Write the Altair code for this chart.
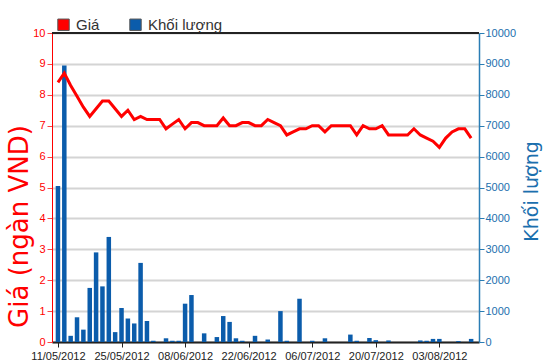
import altair as alt
import pandas as pd

# trading days 11/05/2012 .. 10/08/2012
dates = [d.strftime("%d/%m/%Y") for d in pd.bdate_range("2012-05-11", "2012-08-10")]

price = [8.4, 8.7, 8.3, 7.95, 7.6, 7.3, 7.55, 7.8, 7.8, 7.55,
         7.3, 7.5, 7.2, 7.3, 7.2, 7.2, 7.2, 6.9, 7.05, 7.2,
         6.9, 7.1, 7.1, 7.0, 7.0, 7.0, 7.25, 7.0, 7.0, 7.1,
         7.1, 7.0, 7.0, 7.2, 7.1, 7.0, 6.7, 6.8, 6.9, 6.9,
         7.0, 7.0, 6.8, 7.0, 7.0, 7.0, 7.0, 6.7, 7.0, 6.9,
         6.9, 7.0, 6.7, 6.7, 6.7, 6.7, 6.9, 6.7, 6.6, 6.5,
         6.3, 6.6, 6.8, 6.9, 6.9, 6.6]

volume = [5050, 8950, 200, 800, 400, 1750, 2900, 1800, 3400, 320,
          1100, 760, 600, 2560, 680, 40, 0, 120, 40, 40,
          1240, 1520, 0, 280, 0, 160, 840, 650, 120, 40,
          0, 200, 0, 80, 0, 1000, 40, 0, 1400, 0,
          40, 0, 120, 0, 0, 0, 240, 40, 0, 130,
          60, 0, 50, 0, 0, 0, 0, 50, 40, 100,
          100, 0, 0, 30, 0, 100]

tick_idx = [0, 10, 20, 30, 40, 50, 60]
tick_labels = [dates[i] for i in tick_idx]

series = ["Giá", "Khối lượng"]
colors = ["#ff0000", "#0b5cab"]

df = pd.DataFrame({
    "i": list(range(len(dates))),
    "date": dates,
    "price": price,
    "volume": volume,
    "series": "Khối lượng",
})

W, H = 427, 309
label_expr = "[" + ",".join("'%s'" % s for s in tick_labels) + "][round(datum.value/10)]"

x_enc = alt.X(
    "i:Q",
    scale=alt.Scale(domain=[-0.15, 65.45], nice=False, zero=False),
    axis=alt.Axis(
        values=tick_idx, labelExpr=label_expr, title=None, grid=False,
        domainColor="#222222", domainWidth=2, tickColor="#222222", tickSize=5,
        labelFont="Liberation Sans Narrow, Liberation Sans, Arial", labelFontSize=11,
        labelColor="#222222", labelPadding=3,
    ),
)

bars = alt.Chart(df).mark_bar(width=4.5).encode(
    x=x_enc,
    y=alt.Y(
        "volume:Q",
        scale=alt.Scale(domain=[0, 10000], nice=False),
        axis=alt.Axis(
            orient="right", values=list(range(0, 10001, 1000)), format="d", grid=False,
            title="Khối lượng", titleColor="#1b6fae", titleFont="DejaVu Sans",
            titleFontSize=19, titleFontWeight="normal", titleAngle=270,
            titleX=58, titleY=158, titleAlign="center", titleBaseline="alphabetic",
            domainColor="#2a7db5", domainWidth=1.5, tickColor="#2a7db5", tickSize=5,
            labelColor="#1b6fae", labelFont="Liberation Sans", labelFontSize=11,
            labelPadding=1,
        ),
    ),
    color=alt.Color(
        "series:N",
        scale=alt.Scale(domain=series, range=colors),
        legend=alt.Legend(
            title=None, orient="none", direction="horizontal",
            legendX=4, legendY=-16, symbolType="square", symbolSize=130,
            symbolStrokeWidth=1, symbolStrokeColor="#555555",
            labelFont="Liberation Sans", labelFontSize=15,
            labelColor="#333333", labelOffset=5, columnPadding=27,
        ),
    ),
)

line = alt.Chart(df).mark_line(color="#ff0000", strokeWidth=3).encode(
    x=x_enc,
    y=alt.Y(
        "price:Q",
        scale=alt.Scale(domain=[0, 10], nice=False),
        axis=alt.Axis(
            orient="left", values=list(range(0, 11)), grid=True,
            gridColor="#d4d4d4", gridWidth=2,
            title="Giá (ngàn VND)", titleColor="#ff0000", titleFont="DejaVu Sans",
            titleFontSize=26, titleFontWeight="normal", titleAngle=270,
            titleX=-25, titleY=193, titleAlign="center", titleBaseline="alphabetic",
            domainColor="#ff0000", domainWidth=1, tickColor="#ff4444", tickSize=5,
            labelColor="#ff0000", labelFont="Liberation Sans", labelFontSize=11,
            labelPadding=2,
        ),
    ),
)

top_rule = alt.Chart(df).mark_rule(color="#222222", strokeWidth=2).encode(
    x=alt.value(0), x2=alt.value(W), y=alt.value(0)
)

chart = alt.layer(bars, line, top_rule).resolve_scale(y="independent").properties(
    width=W, height=H,
    autosize=alt.AutoSizeParams(type="none"),
    padding={"left": 52, "top": 33, "right": 71, "bottom": 22},
).configure_view(stroke=None).configure(background="white")

chart.save("out.html", embed_options={"renderer": "svg", "actions": False})
